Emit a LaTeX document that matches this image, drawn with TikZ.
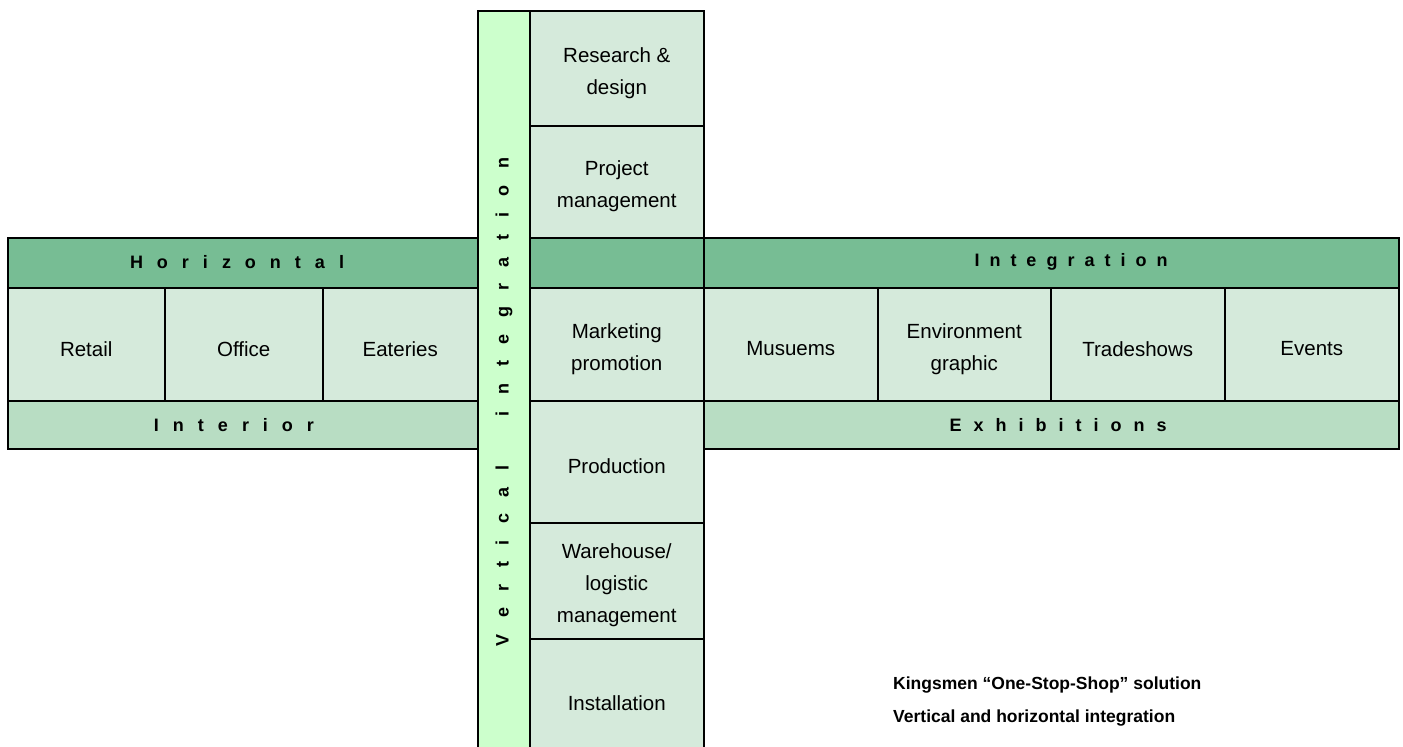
\documentclass[tikz,border=0pt]{standalone}
\usepackage{fontspec}
\setmainfont{Liberation Sans}
\definecolor{stripc}{HTML}{CCFFCC}
\definecolor{bandc}{HTML}{77BD94}
\definecolor{cellc}{HTML}{D5EADB}
\definecolor{lowc}{HTML}{B8DDC3}
\tikzset{
  box/.style={draw=black, line width=1.5pt, inner sep=0pt, anchor=north west, align=center},
  cell/.style={box, fill=cellc},
  celltext/.style={font=\fontsize{20.5}{32}\selectfont, align=center, inner sep=0pt, yshift=-4.5pt},
  band/.style={box, fill=bandc},
  lowband/.style={box, fill=lowc},
  strip/.style={box, fill=stripc},
  spaced/.style={font=\fontsize{18}{22}\selectfont\bfseries, inner sep=0pt},
  caption/.style={font=\fontsize{17.5}{33}\selectfont\bfseries, align=left, anchor=north west, inner sep=0pt}
}
\begin{document}
\begin{tikzpicture}[x=1pt,y=-1pt]
\useasboundingbox (0,0) rectangle (1403,747);
\clip (0,0) rectangle (1403,747);
% top band across full width
\node[band, minimum width=1391pt, minimum height=50pt] (topband) at (7,237) {};
% left cells
\node[cell, minimum width=157pt, minimum height=113pt, label={[celltext]center:Retail}] (retail) at (7,287) {};
\node[cell, minimum width=158pt, minimum height=113pt, label={[celltext]center:Office}] (office) at (164,287) {};
\node[cell, minimum width=155pt, minimum height=113pt, label={[celltext]center:Eateries}] (eateries) at (322,287) {};
\node[lowband, minimum width=470pt, minimum height=48pt] (interior) at (7,400) {};
% right cells
\node[cell, minimum width=174pt, minimum height=113pt, label={[celltext]center:Musuems}] (museums) at (703,287) {};
\node[cell, minimum width=173pt, minimum height=113pt, label={[celltext]center:{Environment\\graphic}}] (envgraph) at (877,287) {};
\node[cell, minimum width=174pt, minimum height=113pt, label={[celltext]center:Tradeshows}] (tradeshows) at (1050,287) {};
\node[cell, minimum width=174pt, minimum height=113pt, label={[celltext]center:Events}] (events) at (1224,287) {};
\node[lowband, minimum width=695pt, minimum height=48pt] (exhibitions) at (703,400) {};
% column cells
\node[cell, minimum width=174pt, minimum height=115pt, label={[celltext]center:{Research \&\\design}}] (research) at (529,10) {};
\node[cell, minimum width=174pt, minimum height=112pt, label={[celltext]center:{Project\\management}}] (project) at (529,125) {};
\node[band, minimum width=174pt, minimum height=50pt] (midband) at (529,237) {};
\node[cell, minimum width=174pt, minimum height=113pt, label={[celltext]center:{Marketing\\promotion}}] (marketing) at (529,287) {};
\node[cell, minimum width=174pt, minimum height=122pt, label={[celltext]center:Production}] (production) at (529,400) {};
\node[cell, minimum width=174pt, minimum height=116pt, label={[celltext]center:{Warehouse/\\logistic\\management}}] (warehouse) at (529,522) {};
\node[cell, minimum width=174pt, minimum height=120pt, label={[celltext]center:Installation}] (installation) at (529,638) {};
% vertical strip
\node[strip, minimum width=52pt, minimum height=745pt] (strip) at (477,10) {};
% labels
\node[spaced] (horizontal) at (237,262) {\spaceskip=14pt\relax H o r i z o n t a l};
\node[spaced] (integration) at (1071,262) {\spaceskip=10pt\relax I n t e g r a t i o n};
\node[spaced] (interiorlbl) at (234,425) {\spaceskip=14pt\relax I n t e r i o r};
\node[spaced] (exhiblbl) at (1058,425) {\spaceskip=12pt\relax E x h i b i t i o n s};
\node[spaced, rotate=90] (vertlbl) at (504,402) {\spaceskip=16.5pt\relax V e r t i c a l \ \ i n t e g r a t i o n};
% caption
\node[caption] (cap) at (893,677) {Kingsmen “One-Stop-Shop” solution\\Vertical and horizontal integration};
\end{tikzpicture}
\end{document}
